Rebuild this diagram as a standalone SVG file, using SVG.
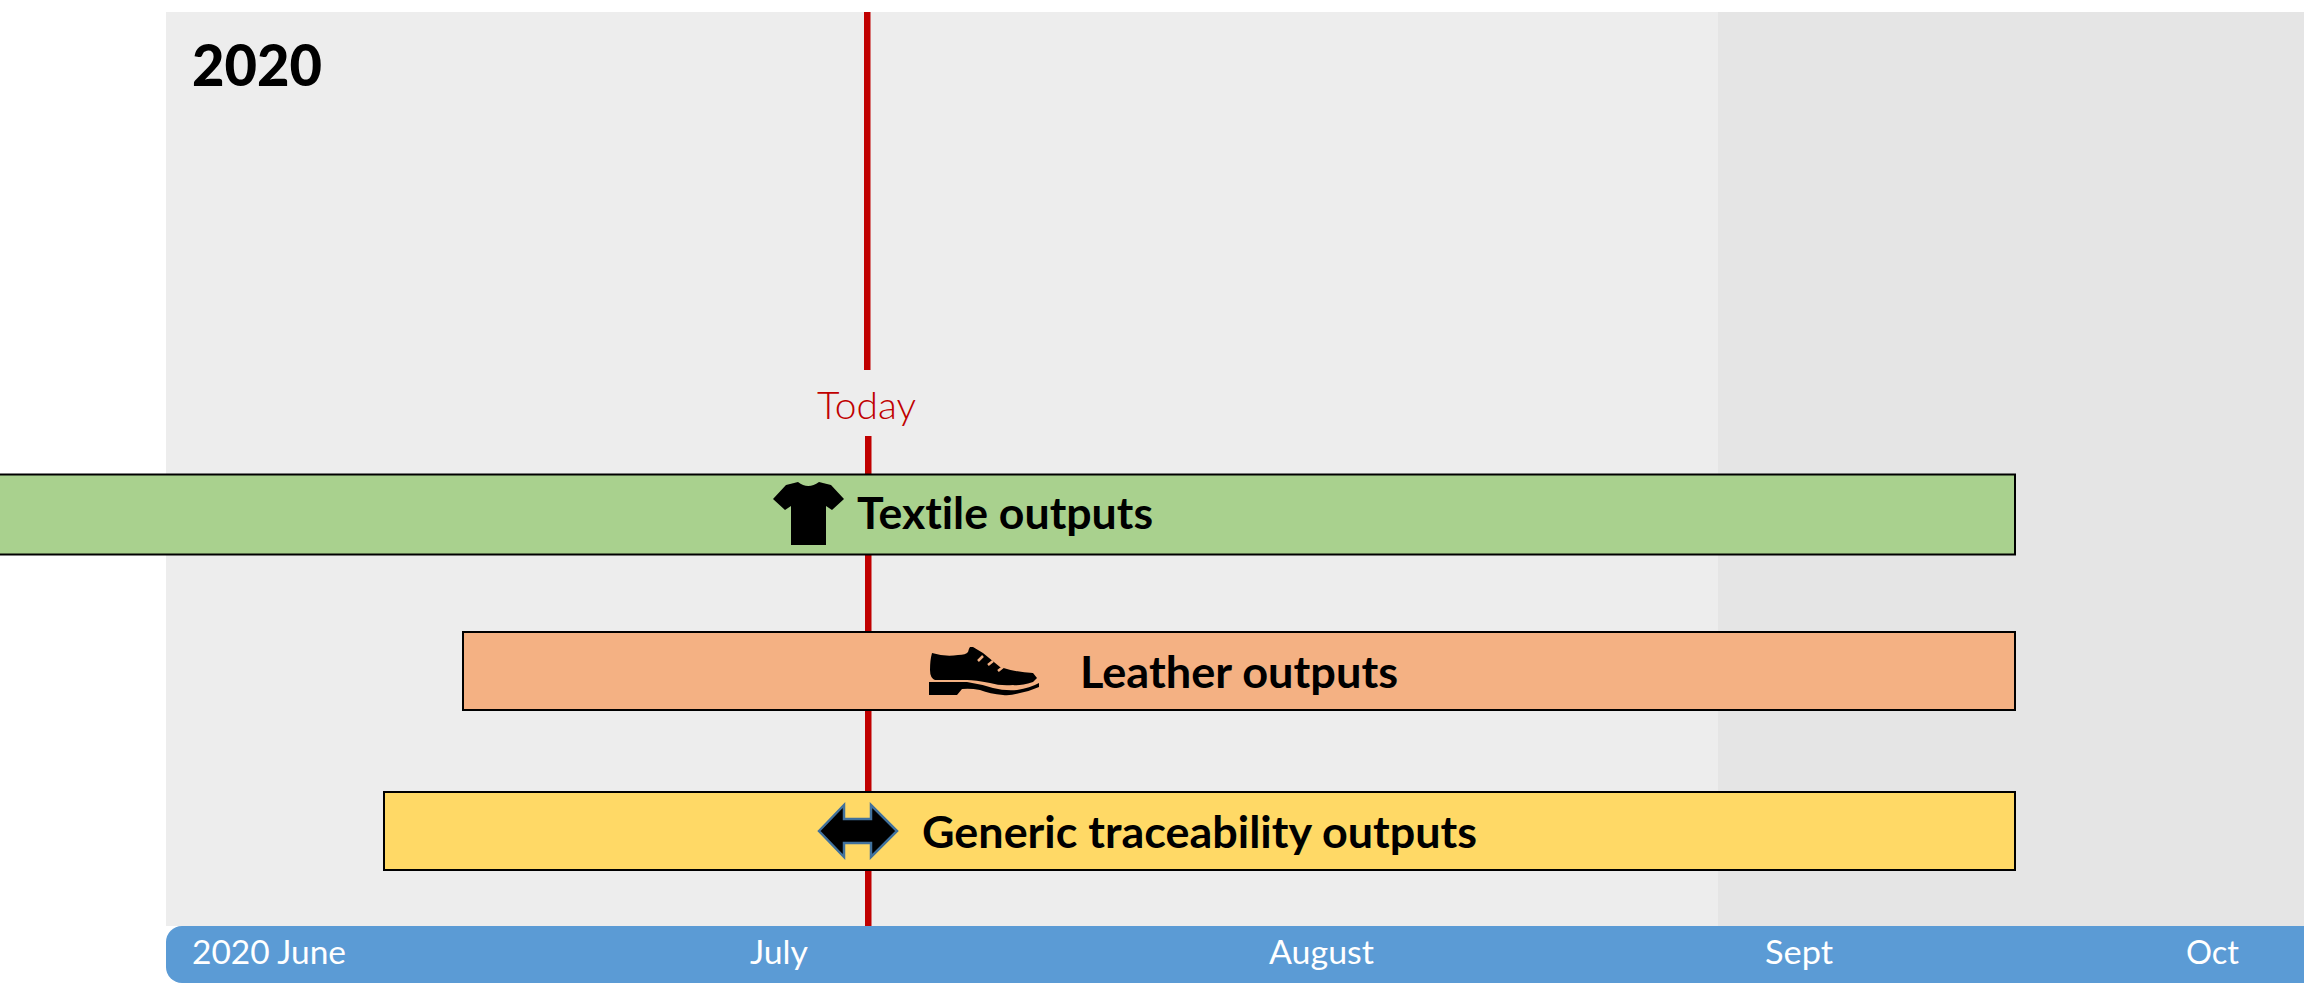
<svg xmlns="http://www.w3.org/2000/svg" width="2304" height="983" viewBox="0 0 2304 983">
<style>
text{font-family:Lato,"Open Sans","Liberation Sans",sans-serif;font-variant-ligatures:none}
.bar{stroke:#000;stroke-width:2}
.lbl{font-weight:700;font-size:44.5px;fill:#000}
.mon{font-size:33.500px;fill:#fff}
.red{fill:#c00000}
</style>
<rect width="2304" height="983" fill="#fff"/>
<g id="background">
<rect x="166" y="12" width="1552" height="914" fill="#ededed"/>
<rect x="1718" y="12" width="586" height="914" fill="#e5e5e5"/>
<text x="192" y="86" font-size="58" font-weight="900" fill="#000" textLength="130" lengthAdjust="spacingAndGlyphs">2020</text>
</g>
<g id="today">
<rect class="red" x="864" y="12" width="6.500" height="358"/>
<rect class="red" x="865" y="436" width="6.500" height="490"/>
<text x="817" y="419" font-size="38" font-weight="300" fill="#c00000" textLength="99" lengthAdjust="spacingAndGlyphs">Today</text>
</g>
<g id="timeline">
<path d="M2304 926H182a16 16 0 0 0-16 16V967a16 16 0 0 0 16 16H2304Z" fill="#5b9bd5"/>
<text class="mon" x="192" y="964" textLength="154" lengthAdjust="spacingAndGlyphs">2020 June</text>
<text class="mon" x="750" y="964" textLength="58" lengthAdjust="spacingAndGlyphs">July</text>
<text class="mon" x="1269" y="964" textLength="105" lengthAdjust="spacingAndGlyphs">August</text>
<text class="mon" x="1765" y="964" textLength="68" lengthAdjust="spacingAndGlyphs">Sept</text>
<text class="mon" x="2186" y="964" textLength="53" lengthAdjust="spacingAndGlyphs">Oct</text>
</g>
<g id="textile">
<rect class="bar" x="-4" y="474.500" width="2019" height="80" fill="#a9d18e"/>
<path d="M786 485L798 482Q808 490 819 482L831 485L844 499L832 510L826 506V545H791V506L785 510L773 499Z" fill="#000"/>
<text class="lbl" x="857" y="529" textLength="296" lengthAdjust="spacingAndGlyphs">Textile outputs</text>
</g>
<g id="leather">
<rect class="bar" x="463" y="632" width="1552" height="78" fill="#f4b183"/>
<path d="M930 670Q930 660 932 653Q945 657 958 655Q966 655 968 652Q969 648 970 647L973 647L983 653L1000 667Q1015 672 1033 673L1037 678L1033 682Q1020 686 1013 685Q1000 686 990 683Q975 680 967 680L935 680Q930 678 930 670Z" fill="#000"/>
<path d="M929 682H967Q980 684 993 688Q1005 691 1017 690Q1030 688 1039 683V687Q1030 691 1020 693Q1010 696 1003 695Q990 694 980 690Q970 688 962 689L957 695H929Z" fill="#000"/>
<path d="M978 661L983 656M988 665L993 661M998 671L1003 667" stroke="#f4b183" stroke-width="2.500" fill="none"/>
<text class="lbl" x="1080" y="688" textLength="318" lengthAdjust="spacingAndGlyphs">Leather outputs</text>
</g>
<g id="generic">
<rect class="bar" x="384" y="792" width="1631" height="78" fill="#ffd966"/>
<path d="M819 831L844 805V819H871V805L897 831L871 857V843H844V857Z" fill="#000" stroke="#41719c" stroke-width="2.500"/>
<text class="lbl" x="922" y="848" textLength="555" lengthAdjust="spacingAndGlyphs">Generic traceability outputs</text>
</g>
</svg>
